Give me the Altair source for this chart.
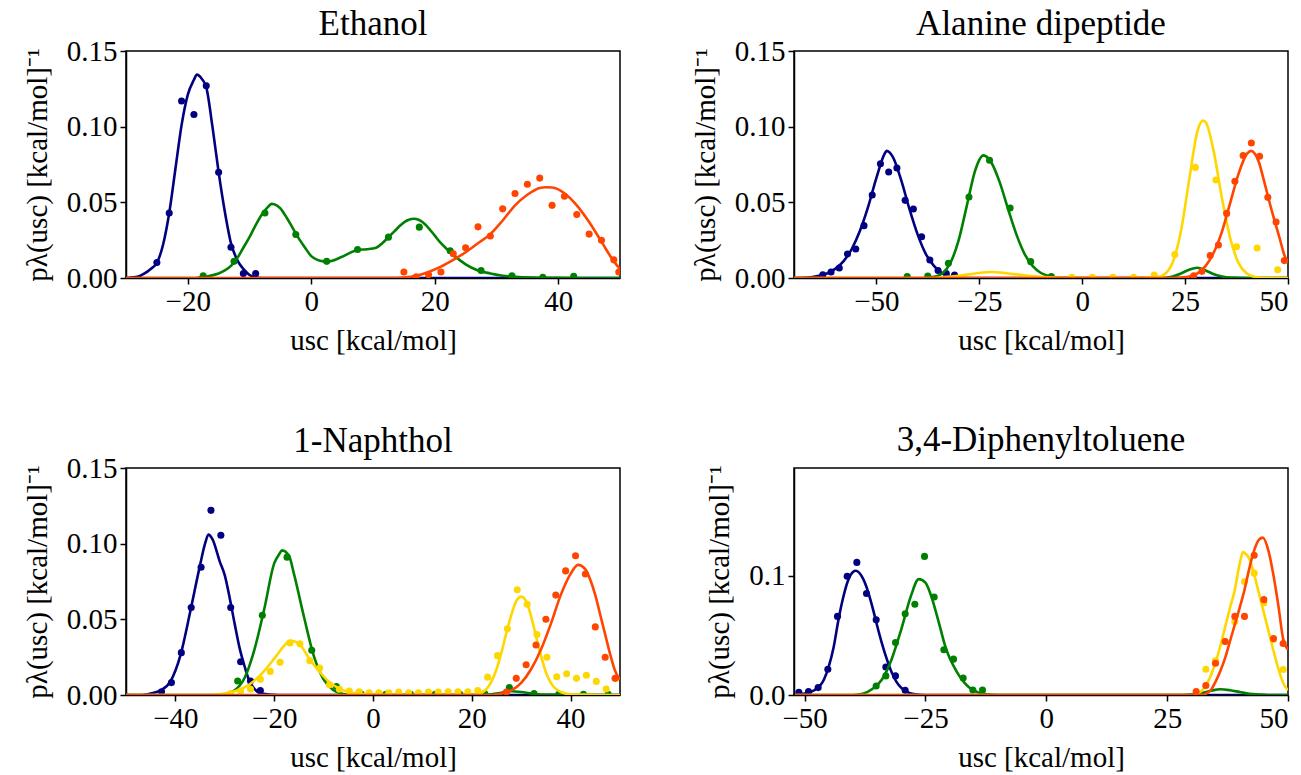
import altair as alt
import pandas as pd

NAVY = "#000080"
GREEN = "#008000"
GOLD = "#FFD700"
ORANGE = "#FF4500"

# ---------------- Ethanol ----------------
eth_navy_line_x = [-30, -28, -27, -26, -25, -24, -23, -22, -21, -20, -19, -18.5, -18, -17, -16, -15, -14, -13, -12, -11, -10, -9, -8, 50]
eth_navy_line_y = [0, 0.001, 0.003, 0.006, 0.010, 0.022, 0.043, 0.072, 0.101, 0.121, 0.131, 0.1345, 0.133, 0.126, 0.100, 0.070, 0.044, 0.023, 0.012, 0.006, 0.002, 0.0005, 0, 0]
eth_navy_dot_x = [-25, -23, -21, -19, -17, -15, -13, -11, -9]
eth_navy_dot_y = [0.0102, 0.043, 0.117, 0.108, 0.127, 0.0698, 0.0203, 0.0029, 0.0029]

eth_green_line_x = [-30, -19, -17, -15, -14, -13, -12, -11, -10, -9, -8, -7, -6.4, -6, -5, -4, -3, -2, -1, 0, 1, 2, 2.5, 3, 5, 7.5, 9, 10.5, 11.5, 12.5, 13.5, 14.5, 15.5, 16.5, 17, 18, 19, 20, 21, 22, 23, 24, 25, 27, 29, 31, 33, 36, 40, 45, 50]
eth_green_line_y = [0, 0, 0.001, 0.003, 0.005, 0.008, 0.013, 0.020, 0.027, 0.035, 0.042, 0.047, 0.049, 0.0488, 0.046, 0.040, 0.033, 0.026, 0.020, 0.0145, 0.012, 0.011, 0.0108, 0.011, 0.014, 0.0185, 0.019, 0.020, 0.023, 0.027, 0.031, 0.035, 0.038, 0.0392, 0.039, 0.037, 0.033, 0.028, 0.023, 0.019, 0.015, 0.012, 0.009, 0.005, 0.003, 0.0015, 0.0008, 0.0003, 0.0001, 0, 0]
eth_green_dot_x = [-17.5, -12.5, -7.5, -2.5, 2.5, 7.5, 12.5, 17.5, 22.5, 27.5, 32.5, 37.5, 42.5]
eth_green_dot_y = [0.0015, 0.011, 0.043, 0.0287, 0.011, 0.0188, 0.027, 0.0336, 0.018, 0.0049, 0.0015, 0.0005, 0.0012]

eth_orange_line_x = [-30, 14, 15, 17, 19, 21, 23, 25, 27, 29, 31, 33, 35, 37, 38, 39, 41, 43, 45, 47, 49, 50]
eth_orange_line_y = [0, 0, 0.0003, 0.0015, 0.004, 0.0075, 0.012, 0.017, 0.023, 0.029, 0.038, 0.048, 0.055, 0.0595, 0.060, 0.0598, 0.056, 0.048, 0.037, 0.024, 0.011, 0.006]
eth_orange_dot_x = [15, 17, 19, 21, 23, 25, 27, 29, 31, 33, 35, 37, 39, 41, 43, 45, 47, 49, 49.8]
eth_orange_dot_y = [0.004, 0.0008, 0.0022, 0.004, 0.016, 0.020, 0.0338, 0.0278, 0.0457, 0.0558, 0.062, 0.066, 0.048, 0.054, 0.042, 0.029, 0.025, 0.012, 0.004]

# ---------------- Alanine dipeptide ----------------
ala_navy_line_x = [-70, -66, -64, -62, -60, -58, -56, -54, -52, -50, -48, -47.5, -46, -44, -42, -40, -38, -36, -34, -32, -30, -28, 50]
ala_navy_line_y = [0, 0.0005, 0.0015, 0.003, 0.006, 0.011, 0.019, 0.031, 0.047, 0.066, 0.082, 0.084, 0.080, 0.065, 0.046, 0.029, 0.016, 0.008, 0.003, 0.001, 0.0003, 0, 0]
ala_navy_dot_x = [-63, -61, -59, -57, -55, -53, -51, -49, -47, -45, -43, -41, -39, -37, -35, -33, -31]
ala_navy_dot_y = [0.0022, 0.004, 0.0066, 0.0159, 0.0192, 0.0346, 0.0548, 0.0755, 0.070, 0.0727, 0.0513, 0.0456, 0.0273, 0.0119, 0.005, 0.003, 0.002]

ala_green_line_x = [-70, -40, -38, -36, -34, -32, -30, -28, -26, -24, -22, -20, -18, -16, -14, -12, -10, -8, -6, -3, 0, 20, 22, 24, 26, 28, 30, 32, 34, 36, 40, 50]
ala_green_line_y = [0, 0, 0.0002, 0.0008, 0.003, 0.010, 0.025, 0.048, 0.071, 0.081, 0.076, 0.063, 0.0456, 0.029, 0.016, 0.0078, 0.0033, 0.0012, 0.0004, 0.0001, 0, 0, 0.001, 0.003, 0.0055, 0.0068, 0.005, 0.0025, 0.001, 0.0003, 0, 0]
ala_green_dot_x = [-42.5, -37.5, -32.5, -27.5, -22.5, -17.5, -12.5, -7.5]
ala_green_dot_y = [0.001, 0.0013, 0.0097, 0.0535, 0.0778, 0.0463, 0.0108, 0.001]

ala_gold_line_x = [-70, -36, -34, -30, -26, -22, -18, -14, -10, -6, -2, 10, 18, 20, 22, 24, 26, 28, 29.3, 30, 32, 34, 36, 38, 40, 42, 44, 50]
ala_gold_line_y = [0, 0, 0.0005, 0.0015, 0.003, 0.004, 0.003, 0.0018, 0.0008, 0.0003, 0.0001, 0, 0.0005, 0.0025, 0.0104, 0.031, 0.065, 0.097, 0.104, 0.103, 0.083, 0.052, 0.026, 0.0098, 0.0029, 0.0007, 0.0002, 0]
ala_gold_dot_x = [-2.5, 2.5, 7.5, 12.5, 17.5, 22.5, 27.5, 32.5, 37.5, 42.5, 47.5]
ala_gold_dot_y = [0.0005, 0.0005, 0.0005, 0.0005, 0.002, 0.0155, 0.0731, 0.0648, 0.0207, 0.0198, 0.0055]

ala_orange_line_x = [-70, 22, 24, 26, 28, 30, 32, 34, 36, 38, 40, 41, 42, 43, 44, 46, 48, 49, 50]
ala_orange_line_y = [0, 0, 0.0003, 0.001, 0.003, 0.008, 0.017, 0.031, 0.050, 0.069, 0.082, 0.084, 0.082, 0.076, 0.066, 0.045, 0.026, 0.016, 0.010]
ala_orange_dot_x = [27.1, 29.1, 31.1, 33.1, 35.1, 37.1, 39.1, 41.1, 43.1, 45.1, 47.1, 49.1]
ala_orange_dot_y = [0.0015, 0.0044, 0.0148, 0.0218, 0.0427, 0.0639, 0.081, 0.0892, 0.0804, 0.0533, 0.037, 0.0115]

# ---------------- 1-Naphthol ----------------
nap_navy_line_x = [-50, -47, -45, -43, -41, -39, -37, -35, -34, -33.3, -32.5, -31, -30, -29, -28, -27, -26, -25, -24, -23, -21, -19, 50]
nap_navy_line_y = [0, 0, 0.001, 0.003, 0.009, 0.026, 0.055, 0.086, 0.100, 0.106, 0.103, 0.088, 0.079, 0.064, 0.047, 0.031, 0.019, 0.009, 0.004, 0.0015, 0.0003, 0, 0]
nap_navy_dot_x = [-42.8, -40.8, -38.8, -36.8, -34.8, -32.8, -30.8, -28.8, -26.8, -24.8, -22.8]
nap_navy_dot_y = [0.0022, 0.0082, 0.028, 0.0578, 0.0844, 0.122, 0.1056, 0.0578, 0.022, 0.0093, 0.003]

nap_green_line_x = [-50, -32, -30, -28, -26, -24, -22, -20, -19, -18.4, -17, -16, -14, -12, -10, -8, -6, -4, -2, 0, 22, 24, 26, 28, 30, 32, 34, 50]
nap_green_line_y = [0, 0, 0.0006, 0.0031, 0.0112, 0.030, 0.057, 0.087, 0.093, 0.0956, 0.092, 0.080, 0.052, 0.026, 0.0103, 0.0031, 0.0007, 0.0002, 0.0001, 0, 0, 0.0005, 0.0015, 0.0025, 0.002, 0.001, 0.0003, 0]
nap_green_dot_x = [-27.4, -22.4, -17.4, -12.4, -7.4, -2.4, 2.6, 7.6, 12.6, 17.6, 22.6, 27.6, 32.6, 37.6, 42.6, 47.6]
nap_green_dot_y = [0.0093, 0.0527, 0.0911, 0.0296, 0.0056, 0.0006, 0.0005, 0.0005, 0.0005, 0.0005, 0.001, 0.005, 0.001, 0.0005, 0.0005, 0.0005]

nap_gold_line_x = [-50, -33, -30, -28, -26, -24, -22, -20, -18, -16.8, -15, -13, -11, -9, -7, -5, -3, 0, 5, 10, 20, 21, 22, 23, 24, 25, 26, 27, 28, 29, 30, 31, 32, 33, 34, 35, 36, 38, 40, 50]
nap_gold_line_y = [0, 0, 0.001, 0.0025, 0.005, 0.0095, 0.016, 0.024, 0.0325, 0.036, 0.034, 0.0245, 0.016, 0.009, 0.0045, 0.002, 0.001, 0.0003, 0.0001, 0, 0, 0.0005, 0.0015, 0.004, 0.009, 0.017, 0.028, 0.041, 0.053, 0.062, 0.065, 0.062, 0.052, 0.039, 0.026, 0.015, 0.008, 0.002, 0.0005, 0]
nap_gold_dot_x = [-28.8, -26.8, -24.8, -22.8, -20.8, -18.8, -16.8, -14.8, -12.8, -10.8, -8.8, -6.8, -4.8, -2.8, -0.8, 1.2, 3.2, 5.2, 7.2, 9.2, 11.2, 13.2, 15.2, 17.2, 19.2, 21.2, 23.2, 25.2, 27.2, 29.2, 31.2, 33.2, 35.2, 37.2, 39.2, 41.2, 43.2, 45.2, 47.2, 49.2]
nap_gold_dot_y = [0.001, 0.0027, 0.004, 0.0104, 0.0156, 0.0216, 0.0344, 0.0338, 0.0227, 0.0178, 0.0067, 0.0038, 0.0027, 0.0022, 0.0015, 0.0015, 0.0015, 0.002, 0.0015, 0.0015, 0.002, 0.002, 0.0022, 0.0022, 0.0022, 0.003, 0.0118, 0.026, 0.0438, 0.0696, 0.060, 0.040, 0.025, 0.012, 0.014, 0.011, 0.013, 0.009, 0.004, 0.011]

nap_orange_line_x = [-50, 24, 26, 28, 30, 32, 34, 36, 38, 40, 41.5, 43, 44, 45, 46, 47, 48, 49, 50]
nap_orange_line_y = [0, 0, 0.001, 0.003, 0.008, 0.017, 0.030, 0.047, 0.066, 0.080, 0.086, 0.083, 0.076, 0.066, 0.053, 0.040, 0.027, 0.016, 0.010]
nap_orange_dot_x = [27, 29, 31, 33, 35, 37, 39, 41, 43, 45, 47, 49]
nap_orange_dot_y = [0.002, 0.011, 0.020, 0.033, 0.050, 0.066, 0.082, 0.092, 0.080, 0.045, 0.025, 0.011]

# ---------------- 3,4-Diphenyltoluene ----------------
dip_navy_line_x = [-52, -50, -48, -46, -45, -44, -43, -42, -41, -40, -39.4, -38, -37, -36, -35, -34, -33, -32, -31, -30, -29, -28, -26, -24, 50]
dip_navy_line_y = [0.0002, 0.0012, 0.004, 0.013, 0.024, 0.040, 0.063, 0.082, 0.096, 0.103, 0.104, 0.098, 0.088, 0.074, 0.058, 0.043, 0.030, 0.019, 0.011, 0.006, 0.003, 0.0012, 0.0002, 0, 0]
dip_navy_dot_x = [-51.2, -49.2, -47.2, -45.2, -43.2, -41.2, -39.2, -37.2, -35.2, -33.2, -31.2, -29.2]
dip_navy_dot_y = [0.0022, 0.0028, 0.0062, 0.0216, 0.0658, 0.0994, 0.111, 0.085, 0.063, 0.0235, 0.016, 0.0039]

dip_green_line_x = [-52, -40, -38, -36, -34, -32, -30, -28, -26.4, -25, -24, -22, -21, -20, -19, -18, -17, -16, -15, -14, -12, -10, 28, 30, 32, 34, 36, 38, 40, 42, 44, 46, 50]
dip_green_line_y = [0, 0, 0.001, 0.005, 0.013, 0.030, 0.055, 0.083, 0.097, 0.094, 0.085, 0.057, 0.042, 0.031, 0.023, 0.016, 0.0105, 0.0065, 0.0038, 0.002, 0.0005, 0, 0, 0.0005, 0.0015, 0.0035, 0.0048, 0.004, 0.0025, 0.001, 0.0004, 0, 0]
dip_green_dot_x = [-35.2, -33.2, -31.2, -29.2, -27.2, -25.2, -23.2, -21.2, -19.2, -17.2, -15.2, -13.2]
dip_green_dot_y = [0.0076, 0.016, 0.044, 0.068, 0.076, 0.116, 0.082, 0.0378, 0.030, 0.0143, 0.0042, 0.0042]

dip_gold_line_x = [-52, 30, 31, 32, 33, 34, 35, 36, 37, 38, 39, 40, 40.7, 41, 42, 43, 44, 45, 46, 47, 48, 49, 50]
dip_gold_line_y = [0, 0, 0.0005, 0.003, 0.008, 0.016, 0.027, 0.041, 0.057, 0.073, 0.088, 0.110, 0.1196, 0.119, 0.114, 0.101, 0.085, 0.069, 0.053, 0.037, 0.022, 0.010, 0.004]
dip_gold_dot_x = [33, 35, 37, 39, 41, 43, 45, 47, 49]
dip_gold_dot_y = [0.0216, 0.0286, 0.0448, 0.0613, 0.095, 0.102, 0.077, 0.0465, 0.0213]

dip_orange_line_x = [-52, 32, 33, 34, 35, 36, 37, 38, 39, 40, 41, 42, 43, 44, 44.8, 46, 47, 48, 49, 50]
dip_orange_line_y = [0, 0, 0.001, 0.004, 0.011, 0.020, 0.031, 0.045, 0.059, 0.073, 0.088, 0.106, 0.121, 0.130, 0.1317, 0.120, 0.100, 0.075, 0.047, 0.038]
dip_orange_dot_x = [31, 33, 35, 37, 39, 41, 43, 45, 47, 49]
dip_orange_dot_y = [0.0028, 0.008, 0.0266, 0.0448, 0.0658, 0.0658, 0.117, 0.0798, 0.0473, 0.0431]

FONT = "Liberation Serif"
W, H = 494, 227
X_TITLE = "usc [kcal/mol]"
Y_TITLE = "pλ(usc) [kcal/mol]⁻¹"


def panel(title, xdom, xticks, ydom, yticks, yfmt, series, title_offset=-5):
    xs = alt.Scale(domain=xdom, nice=False, zero=False)
    ys = alt.Scale(domain=ydom, nice=False, zero=False)
    xa = alt.Axis(values=xticks, format="d", title=X_TITLE)
    ya = alt.Axis(values=yticks, format=yfmt, title=Y_TITLE)
    layers = []
    for color, lx, ly, dx, dy in series:
        ldf = pd.DataFrame({"x": lx, "y": ly})
        pdf = pd.DataFrame({"x": dx, "y": dy})
        line = alt.Chart(ldf).mark_line(
            color=color, strokeWidth=2.6, interpolate="monotone", clip=True
        ).encode(
            x=alt.X("x:Q", scale=xs, axis=xa),
            y=alt.Y("y:Q", scale=ys, axis=ya),
        )
        pts = alt.Chart(pdf).mark_circle(
            color=color, size=50, opacity=1, clip=True
        ).encode(
            x=alt.X("x:Q", scale=xs, axis=xa),
            y=alt.Y("y:Q", scale=ys, axis=ya),
        )
        layers += [line, pts]
    return alt.layer(*layers).properties(
        width=W, height=H,
        title=alt.TitleParams(title, fontSize=35, font=FONT, fontWeight="normal",
                              color="black", offset=title_offset, anchor="middle", frame="group"),
    )


p1 = panel("Ethanol", [-30, 50], [-20, 0, 20, 40], [0, 0.15], [0, 0.05, 0.10, 0.15], ".2f", [
    (NAVY, eth_navy_line_x, eth_navy_line_y, eth_navy_dot_x, eth_navy_dot_y),
    (GREEN, eth_green_line_x, eth_green_line_y, eth_green_dot_x, eth_green_dot_y),
    (ORANGE, eth_orange_line_x, eth_orange_line_y, eth_orange_dot_x, eth_orange_dot_y),
])
p2 = panel("Alanine dipeptide", [-70, 50], [-50, -25, 0, 25, 50], [0, 0.15], [0, 0.05, 0.10, 0.15], ".2f", [
    (NAVY, ala_navy_line_x, ala_navy_line_y, ala_navy_dot_x, ala_navy_dot_y),
    (GREEN, ala_green_line_x, ala_green_line_y, ala_green_dot_x, ala_green_dot_y),
    (GOLD, ala_gold_line_x, ala_gold_line_y, ala_gold_dot_x, ala_gold_dot_y),
    (ORANGE, ala_orange_line_x, ala_orange_line_y, ala_orange_dot_x, ala_orange_dot_y),
])
p3 = panel("1-Naphthol", [-50, 50], [-40, -20, 0, 20, 40], [0, 0.15], [0, 0.05, 0.10, 0.15], ".2f", [
    (NAVY, nap_navy_line_x, nap_navy_line_y, nap_navy_dot_x, nap_navy_dot_y),
    (GREEN, nap_green_line_x, nap_green_line_y, nap_green_dot_x, nap_green_dot_y),
    (GOLD, nap_gold_line_x, nap_gold_line_y, nap_gold_dot_x, nap_gold_dot_y),
    (ORANGE, nap_orange_line_x, nap_orange_line_y, nap_orange_dot_x, nap_orange_dot_y),
])
p4 = panel("3,4-Diphenyltoluene", [-52.2, 50], [-50, -25, 0, 25, 50], [0, 0.19], [0, 0.1], ".1f", [
    (NAVY, dip_navy_line_x, dip_navy_line_y, dip_navy_dot_x, dip_navy_dot_y),
    (GREEN, dip_green_line_x, dip_green_line_y, dip_green_dot_x, dip_green_dot_y),
    (GOLD, dip_gold_line_x, dip_gold_line_y, dip_gold_dot_x, dip_gold_dot_y),
    (ORANGE, dip_orange_line_x, dip_orange_line_y, dip_orange_dot_x, dip_orange_dot_y),
], title_offset=7)

chart = alt.concat(
    p1, p2, p3, p4, columns=2,
    spacing=alt.RowColnumber(row=190, column=174),
    bounds="flush",
).properties(
    padding={"left": 22, "top": 6, "right": 5, "bottom": 2},
    background="white",
).configure_view(
    stroke="black", strokeWidth=1.5,
).configure_axis(
    grid=False,
    domainColor="black", domainWidth=1.5,
    tickColor="black", tickWidth=1.5, tickSize=6,
    labelFont=FONT, labelFontSize=29, labelColor="black", labelPadding=3,
    titleFont=FONT, titleFontSize=29, titleColor="black", titleFontWeight="normal",
).configure_axisX(titlePadding=10).configure_axisY(titlePadding=14)

chart.save("out.html", embed_options={"renderer": "svg", "actions": False})
